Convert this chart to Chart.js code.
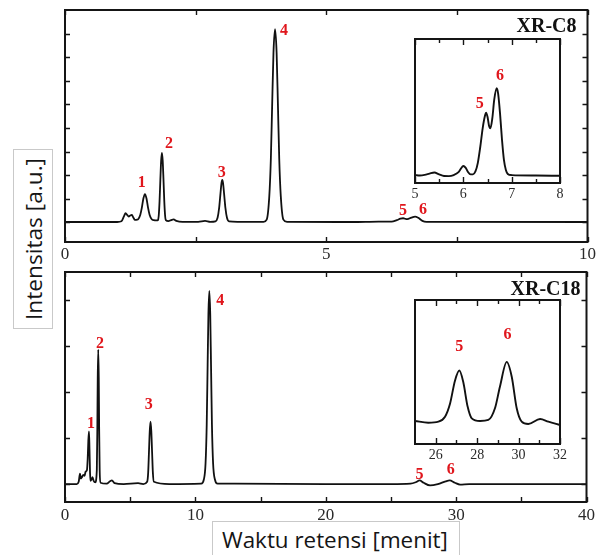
<!DOCTYPE html>
<html><head><meta charset="utf-8">
<script src="https://cdn.jsdelivr.net/npm/chart.js@4.4.0/dist/chart.umd.min.js"></script>
<style>
html,body{margin:0;padding:0;background:#fff;width:598px;height:555px;overflow:hidden;position:relative}
canvas{position:absolute;display:block}
#ylab{position:absolute;left:13px;top:149px;width:40px;height:180px;border:1px solid #c9c9c9;box-sizing:border-box;background:#fff;overflow:visible}
#ylab span{position:absolute;left:-70px;top:70px;width:180px;height:38px;line-height:38px;text-align:center;transform:rotate(-90deg);white-space:nowrap;font-family:'Open Sans';font-size:20px;color:#151515}
#xlab{position:absolute;left:212px;top:521px;width:248px;height:45px;border:1px solid #c9c9c9;box-sizing:border-box;background:#fff}
#xlab span{position:absolute;left:9px;top:2px;white-space:nowrap;font-family:'Open Sans';font-size:22px;color:#151515}
</style>
</head><body>
<canvas id="c8" width="598" height="270" style="left:0;top:0;width:598px;height:270px"></canvas>
<canvas id="c18" width="598" height="270" style="left:0;top:262px;width:598px;height:270px"></canvas>
<canvas id="c8i" width="185" height="180" style="left:395px;top:29px;width:185px;height:180px"></canvas>
<canvas id="c18i" width="185" height="180" style="left:395px;top:290px;width:185px;height:180px"></canvas>
<div id="ylab"><span id="ylabt">Intensitas [a.u.]</span></div>
<div id="xlab"><span id="xlabt">Waktu retensi [menit]</span></div>
<script>
// ---------- DATA ----------
// XR-C8 main chromatogram (time in min, intensity in a.u.)
const c8Time = [0,1.00,1.08,1.13,1.16,1.19,1.22,1.25,1.28,1.31,1.34,1.38,1.40,1.44,1.47,1.50,1.53,1.56,1.59,1.62,1.66,1.70,1.75,1.78,1.795,1.81,1.825,1.84,1.855,1.87,1.885,1.90,1.915,1.93,1.98,2.03,2.08,2.13,2.25,2.55,2.68,2.78,2.88,2.92,2.95,2.975,2.995,3.01,3.025,3.045,3.07,3.10,3.14,3.30,3.80,3.86,3.91,3.94,3.965,3.99,4.02,4.05,4.075,4.10,4.13,4.18,4.25,5.5,6.0,6.25,6.35,6.42,6.47,6.55,6.63,6.70,6.76,6.84,6.92,10];
const c8Signal = [0,0.00,0.03,0.25,0.38,0.30,0.23,0.28,0.30,0.18,0.09,0.10,0.12,0.30,0.60,1.00,1.19,1.00,0.60,0.30,0.12,0.08,0.07,0.08,0.30,0.90,1.80,2.60,2.94,2.60,1.80,0.90,0.30,0.08,0.04,0.08,0.11,0.05,0.01,0.01,0.05,0.01,0.03,0.18,0.60,1.20,1.65,1.79,1.65,1.20,0.60,0.18,0.03,0.01,0.01,0.10,1.10,2.70,5.00,7.20,8.20,7.20,5.00,2.70,1.10,0.10,0.01,0.00,0.02,0.02,0.08,0.14,0.16,0.12,0.19,0.23,0.18,0.05,0.01,0.00];
// XR-C8 inset (peaks 5 and 6)
const c8InsetTime = [5.0,5.1,5.2,5.3,5.4,5.5,5.6,5.7,5.8,5.9,5.95,6.0,6.05,6.1,6.15,6.2,6.25,6.3,6.35,6.4,6.45,6.47,6.5,6.53,6.56,6.6,6.64,6.69,6.72,6.76,6.8,6.84,6.88,6.92,7.0,7.5,8.0];
const c8InsetSignal = [5.5,5.2,5.6,6.5,7.3,6.0,4.9,4.8,5.5,7.5,10,11.8,10.5,7.5,6.0,6.0,8,14,25,38,47,48.8,46,40,38,45,58,65.8,62,48,30,16,9,6.3,5.5,5.2,5.0];
// XR-C18 main chromatogram
const c18Time = [0,0.9,1.05,1.15,1.22,1.30,1.40,1.50,1.58,1.68,1.74,1.79,1.84,1.88,1.92,1.96,2.03,2.11,2.20,2.32,2.44,2.48,2.51,2.55,2.59,2.62,2.66,2.72,3.2,3.45,3.6,3.8,4.5,5.6,6.0,6.30,6.38,6.44,6.50,6.56,6.62,6.68,6.74,6.82,8.0,10.45,10.65,10.78,10.87,10.94,11.00,11.07,11.14,11.20,11.27,11.36,11.50,11.70,13.0,20.0,25.0,26.5,26.9,27.2,27.5,28.0,28.6,29.2,29.5,29.9,30.3,31.0,40.0];
const c18Signal = [0,0.00,0.05,0.23,0.12,0.15,0.20,0.18,0.27,0.30,0.55,0.95,1.15,0.75,0.25,0.07,0.10,0.15,0.07,0.04,0.30,1.20,2.30,2.93,2.30,1.20,0.30,0.03,0.01,0.06,0.08,0.02,0.00,0.02,0.00,0.05,0.25,0.70,1.15,1.36,1.15,0.70,0.25,0.05,0.00,0.01,0.10,0.45,1.30,2.60,3.70,4.21,3.70,2.60,1.30,0.45,0.10,0.01,0.01,0.00,0.00,0.01,0.04,0.08,0.03,-0.03,0.00,0.06,0.08,0.03,-0.01,0.00,0.00];
// XR-C18 inset (peaks 5 and 6)
const c18InsetTime = [25.0,25.64,26.13,26.45,26.69,26.93,27.14,27.33,27.54,27.74,28.14,28.54,28.86,29.1,29.43,29.67,29.91,30.15,30.47,31.04,31.44,32.0];
const c18InsetSignal = [16,14.8,15.5,19,28,44,51,43,26,17.8,16,16.7,24.8,39.8,57,46.7,24.8,15.5,13.9,17.4,15.5,13.2];

// tick values and tick labels
const c8XTicks = [0,2.5,5,7.5,10];
const c8XTickLabels = ['0','','5','','10'];
const c8YTicks = [0,1,2,3,4,5,6,7,8];
const c8InsetXTicks = [5,6,7,8];
const c8InsetXTickLabels = ['5','6','7','8'];
const c8InsetXMinorTicks = [5.5,6.5,7.5];
const c18XTicks = [0,5,10,15,20,25,30,35,40];
const c18XTickLabels = ['0','','10','','20','','30','','40'];
const c18YTicks = [0,1,2,3,4];
const c18InsetXTicks = [26,28,30,32];
const c18InsetXTickLabels = ['26','28','30','32'];
const c18InsetXMinorTicks = [27,29,31];

// peak labels (text, time, intensity)
const c8PeakText = ['1','2','3','4','5','6'];
const c8PeakX = [1.47,1.99,3.00,4.19,6.47,6.85];
const c8PeakY = [1.67,3.32,2.10,8.14,0.48,0.51];
const c8InsetPeakText = ['5','6'];
const c8InsetPeakX = [6.34,6.76];
const c8InsetPeakY = [54.9,74.5];
const c18PeakText = ['1','2','3','4','5','6'];
const c18PeakX = [1.99,2.68,6.42,11.91,27.2,29.58];
const c18PeakY = [1.32,3.05,1.72,3.99,0.20,0.31];
const c18InsetPeakText = ['5','6'];
const c18InsetPeakX = [27.14,29.46];
const c18InsetPeakY = [67.6,75.7];
const panelTitles = ['XR-C8','XR-C18'];

// ---------- axis title fitting ----------
function fitText(id, target) {
  const el = document.getElementById(id);
  const mc = document.createElement('canvas').getContext('2d');
  mc.font = '20px "Open Sans"';
  const w = mc.measureText(el.textContent).width;
  el.style.fontSize = (20 * target / w).toFixed(2) + 'px';
}
fitText('ylabt', 162);
fitText('xlabt', 226);

// ---------- drawing ----------
const framePlugin = {
  id: 'frameTicks',
  beforeDraw(chart, args, o) {
    if (!o.fill) return;
    const {ctx, chartArea: a} = chart;
    ctx.save(); ctx.fillStyle = '#fff';
    ctx.fillRect(a.left, a.top, a.right - a.left, a.bottom - a.top);
    ctx.restore();
  },
  afterDatasetsDraw(chart, args, o) {
    const {ctx, chartArea: a, scales: {x, y}} = chart;
    ctx.save();
    ctx.strokeStyle = '#151515';
    ctx.lineWidth = o.lw;
    ctx.strokeRect(a.left, a.top, a.right - a.left, a.bottom - a.top);
    ctx.lineWidth = 1.4;
    ctx.beginPath();
    const xt = (list, len) => (list || []).forEach(v => {
      const p = Math.round(x.getPixelForValue(v)) + 0.5;
      ctx.moveTo(p, a.bottom); ctx.lineTo(p, a.bottom - len);
      ctx.moveTo(p, a.top); ctx.lineTo(p, a.top + len);
    });
    xt(o.xt, o.len); xt(o.xtm, o.lenm);
    (o.yt || []).forEach(v => {
      const p = Math.round(y.getPixelForValue(v)) + 0.5;
      ctx.moveTo(a.left, p); ctx.lineTo(a.left + o.len, p);
      ctx.moveTo(a.right, p); ctx.lineTo(a.right - o.len, p);
    });
    ctx.stroke();
    ctx.fillStyle = '#e0161c';
    ctx.font = 'bold 16px "Liberation Serif"';
    ctx.textAlign = 'center'; ctx.textBaseline = 'middle';
    (o.lt || []).forEach((t, i) => {
      ctx.fillText(t, x.getPixelForValue(o.lx[i]), y.getPixelForValue(o.ly[i]));
    });
    if (o.title) {
      ctx.fillStyle = '#111';
      ctx.font = 'bold 20px "Liberation Serif"';
      ctx.textAlign = 'right';
      ctx.fillText(o.title, x.getPixelForValue(o.titleX), y.getPixelForValue(o.titleY));
    }
    ctx.restore();
  }
};

function makeChart(id, tx, sy, cfg) {
  const pts = tx.map((t, i) => ({x: t, y: sy[i]}));
  return new Chart(document.getElementById(id), {
    type: 'line',
    data: {datasets: [{data: pts, borderColor: '#111', borderWidth: cfg.bw, pointRadius: 0,
      cubicInterpolationMode: 'monotone', fill: false}]},
    options: {
      responsive: false, animation: false, devicePixelRatio: 1,
      layout: {padding: cfg.pad},
      plugins: {legend: {display: false}, tooltip: {enabled: false}, frameTicks: cfg.frame},
      scales: {
        x: {type: 'linear', min: cfg.xmin, max: cfg.xmax,
          grid: {display: false, drawTicks: false}, border: {display: false},
          afterBuildTicks: s => { s.ticks = cfg.xt.map(v => ({value: v})); },
          afterFit: s => { s.height = cfg.xh; },
          ticks: {autoSkip: false, maxRotation: 0, padding: cfg.tp, color: '#2a2a2a',
            font: {family: 'Liberation Serif', size: cfg.fs},
            callback: (v) => { const k = cfg.xt.indexOf(v); return k >= 0 ? cfg.xl[k] : ''; }}
        },
        y: {type: 'linear', display: false, min: cfg.ymin, max: cfg.ymax}
      }
    },
    plugins: [framePlugin]
  });
}

makeChart('c8', c8Time, c8Signal, {
  bw: 1.8, pad: {left: 65, right: 10, top: 10, bottom: 0}, xmin: 0, xmax: 10, ymin: -0.85, ymax: 9.02,
  xt: c8XTicks, xl: c8XTickLabels, xh: 28, tp: 2, fs: 17,
  frame: {lw: 2, len: 5, xt: c8XTicks, yt: c8YTicks, lt: c8PeakText, lx: c8PeakX, ly: c8PeakY,
    title: panelTitles[0], titleX: 9.79, titleY: 8.3}
});
makeChart('c18', c18Time, c18Signal, {
  bw: 1.8, pad: {left: 65, right: 10, top: 10, bottom: 0}, xmin: 0, xmax: 40, ymin: -0.39, ymax: 4.62,
  xt: c18XTicks, xl: c18XTickLabels, xh: 30, tp: 3, fs: 17,
  frame: {lw: 2, len: 5, xt: c18XTicks, yt: c18YTicks, lt: c18PeakText, lx: c18PeakX, ly: c18PeakY,
    title: panelTitles[1], titleX: 39.54, titleY: 4.23}
});
makeChart('c8i', c8InsetTime, c8InsetSignal, {
  bw: 1.9, pad: {left: 20, right: 20, top: 10, bottom: 0}, xmin: 5, xmax: 8, ymin: 0, ymax: 100,
  xt: c8InsetXTicks, xl: c8InsetXTickLabels, xh: 26, tp: 3, fs: 14,
  frame: {fill: true, lw: 2, len: 6, lenm: 4, xt: c8InsetXTicks, xtm: c8InsetXMinorTicks, yt: [],
    lt: c8InsetPeakText, lx: c8InsetPeakX, ly: c8InsetPeakY}
});
makeChart('c18i', c18InsetTime, c18InsetSignal, {
  bw: 1.9, pad: {left: 20, right: 20, top: 10, bottom: 0}, xmin: 25, xmax: 32, ymin: 0, ymax: 100,
  xt: c18InsetXTicks, xl: c18InsetXTickLabels, xh: 26, tp: 3, fs: 14,
  frame: {fill: true, lw: 2, len: 6, lenm: 4, xt: c18InsetXTicks, xtm: c18InsetXMinorTicks, yt: [],
    lt: c18InsetPeakText, lx: c18InsetPeakX, ly: c18InsetPeakY}
});
</script>
</body></html>
